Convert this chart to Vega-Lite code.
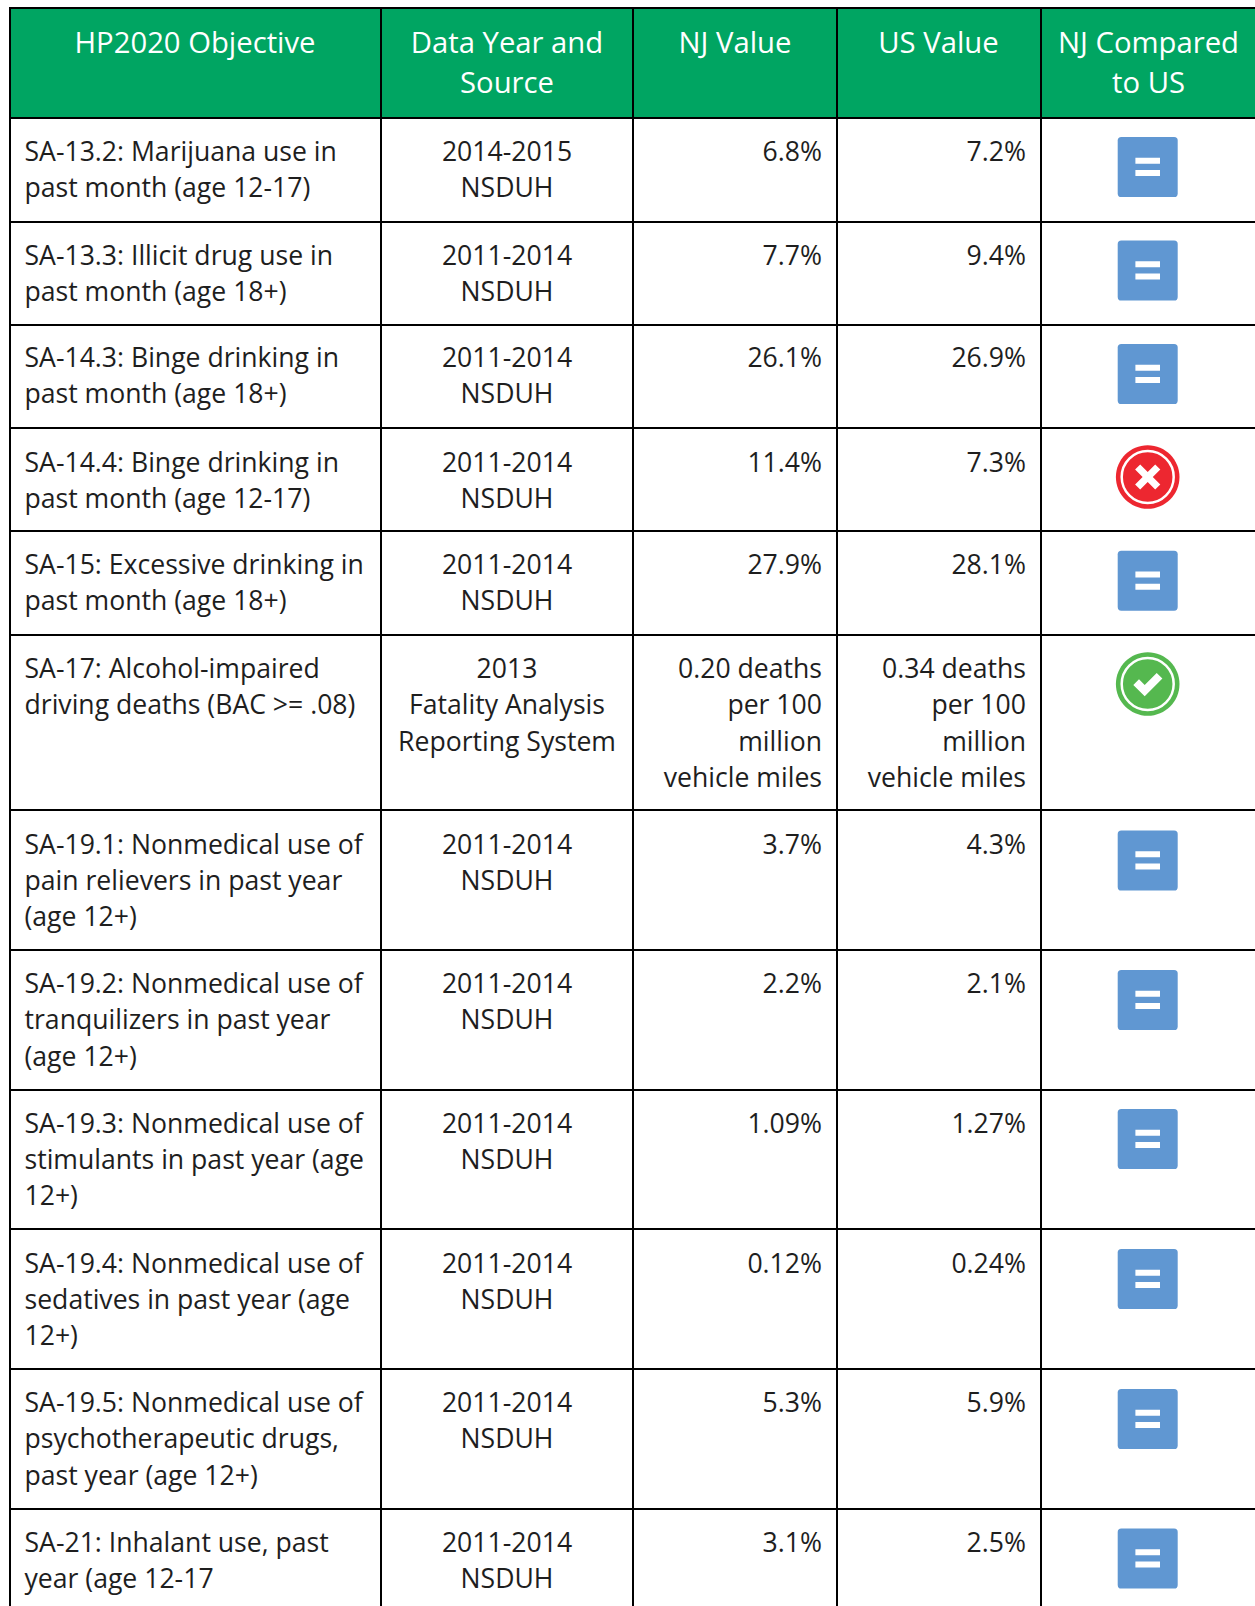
{
"$schema":"https://vega.github.io/schema/vega-lite/v6.json",
"width":1255,"height":1606,"padding":0,"autosize":{"type":"none"},
"background":"white",
"config":{"view":{"stroke":null},"axis":{"disable":true},"legend":{"disable":true}},
"datasets":{
"header":[
{"col":1,"text":"HP2020 Objective"},
{"col":2,"text":"Data Year and\nSource"},
{"col":3,"text":"NJ Value"},
{"col":4,"text":"US Value"},
{"col":5,"text":"NJ Compared\nto US"}],
"hedges":[{"edge":0},{"edge":1},{"edge":2},{"edge":3},{"edge":4},{"edge":5},{"edge":6},{"edge":7},{"edge":8},{"edge":9},{"edge":10},{"edge":11},{"edge":12}],
"vedges":[{"edge":0},{"edge":1},{"edge":2},{"edge":3},{"edge":4}],
"cells":[
{"row":1,"col":1,"text":"SA-13.2: Marijuana use in\npast month (age 12-17)"},{"row":1,"col":2,"text":"2014-2015\nNSDUH"},{"row":1,"col":3,"text":"6.8%"},{"row":1,"col":4,"text":"7.2%"},
{"row":2,"col":1,"text":"SA-13.3: Illicit drug use in\npast month (age 18+)"},{"row":2,"col":2,"text":"2011-2014\nNSDUH"},{"row":2,"col":3,"text":"7.7%"},{"row":2,"col":4,"text":"9.4%"},
{"row":3,"col":1,"text":"SA-14.3: Binge drinking in\npast month (age 18+)"},{"row":3,"col":2,"text":"2011-2014\nNSDUH"},{"row":3,"col":3,"text":"26.1%"},{"row":3,"col":4,"text":"26.9%"},
{"row":4,"col":1,"text":"SA-14.4: Binge drinking in\npast month (age 12-17)"},{"row":4,"col":2,"text":"2011-2014\nNSDUH"},{"row":4,"col":3,"text":"11.4%"},{"row":4,"col":4,"text":"7.3%"},
{"row":5,"col":1,"text":"SA-15: Excessive drinking in\npast month (age 18+)"},{"row":5,"col":2,"text":"2011-2014\nNSDUH"},{"row":5,"col":3,"text":"27.9%"},{"row":5,"col":4,"text":"28.1%"},
{"row":6,"col":1,"text":"SA-17: Alcohol-impaired\ndriving deaths (BAC >= .08)"},{"row":6,"col":2,"text":"2013\nFatality Analysis\nReporting System"},{"row":6,"col":3,"text":"0.20 deaths\nper 100\nmillion\nvehicle miles"},{"row":6,"col":4,"text":"0.34 deaths\nper 100\nmillion\nvehicle miles"},
{"row":7,"col":1,"text":"SA-19.1: Nonmedical use of\npain relievers in past year\n(age 12+)"},{"row":7,"col":2,"text":"2011-2014\nNSDUH"},{"row":7,"col":3,"text":"3.7%"},{"row":7,"col":4,"text":"4.3%"},
{"row":8,"col":1,"text":"SA-19.2: Nonmedical use of\ntranquilizers in past year\n(age 12+)"},{"row":8,"col":2,"text":"2011-2014\nNSDUH"},{"row":8,"col":3,"text":"2.2%"},{"row":8,"col":4,"text":"2.1%"},
{"row":9,"col":1,"text":"SA-19.3: Nonmedical use of\nstimulants in past year (age\n12+)"},{"row":9,"col":2,"text":"2011-2014\nNSDUH"},{"row":9,"col":3,"text":"1.09%"},{"row":9,"col":4,"text":"1.27%"},
{"row":10,"col":1,"text":"SA-19.4: Nonmedical use of\nsedatives in past year (age\n12+)"},{"row":10,"col":2,"text":"2011-2014\nNSDUH"},{"row":10,"col":3,"text":"0.12%"},{"row":10,"col":4,"text":"0.24%"},
{"row":11,"col":1,"text":"SA-19.5: Nonmedical use of\npsychotherapeutic drugs,\npast year (age 12+)"},{"row":11,"col":2,"text":"2011-2014\nNSDUH"},{"row":11,"col":3,"text":"5.3%"},{"row":11,"col":4,"text":"5.9%"},
{"row":12,"col":1,"text":"SA-21: Inhalant use, past\nyear (age 12-17"},{"row":12,"col":2,"text":"2011-2014\nNSDUH"},{"row":12,"col":3,"text":"3.1%"},{"row":12,"col":4,"text":"2.5%"}
],
"status":[
{"row":1,"status":"equal"},{"row":2,"status":"equal"},{"row":3,"status":"equal"},{"row":4,"status":"worse"},{"row":5,"status":"equal"},{"row":6,"status":"better"},{"row":7,"status":"equal"},{"row":8,"status":"equal"},{"row":9,"status":"equal"},{"row":10,"status":"equal"},{"row":11,"status":"equal"},{"row":12,"status":"equal"}]
},
"resolve":{"scale":{"x":"independent","y":"independent","color":"independent","shape":"independent","size":"independent"}},
"layer":[
{"data":{"values":[{"section":"header"}]},
 "mark":{"type":"rect","color":"#00a562"},
 "encoding":{
  "x":{"datum":0,"type":"quantitative","scale":{"domain":[0,5],"range":[9,1255]}},
  "x2":{"datum":5},
  "y":{"datum":0,"type":"quantitative","scale":{"domain":[0,1],"range":[8,118]}},
  "y2":{"datum":1}}},
{"data":{"name":"hedges"},
 "mark":{"type":"rule","color":"#000000","strokeWidth":2},
 "encoding":{
  "y":{"field":"edge","type":"quantitative","scale":{"domain":[0,1,2,3,4,5,6,7,8,9,10,11,12],"range":[8,118,222,325,428,531,635,810,950,1090,1229,1369,1509]}},
  "x":{"datum":0,"type":"quantitative","scale":{"domain":[0,5],"range":[9,1255]}},
  "x2":{"datum":5}}},
{"data":{"name":"vedges"},
 "mark":{"type":"rule","color":"#000000","strokeWidth":2},
 "encoding":{
  "x":{"field":"edge","type":"quantitative","scale":{"domain":[0,1,2,3,4],"range":[10,381,633,837,1041]}},
  "y":{"datum":0,"type":"quantitative","scale":{"domain":[0,1],"range":[8,1606]}},
  "y2":{"datum":1}}},
{"data":{"name":"header"},
 "mark":{"type":"text","font":"Open Sans","fontSize":29.25,"lineHeight":40,"lineBreak":"\n","align":"center","baseline":"alphabetic","color":"#ffffff"},
 "encoding":{
  "x":{"field":"col","type":"quantitative","scale":{"domain":[1,2,3,4,5],"range":[195,507,735,938.5,1148.5]}},
  "y":{"datum":0,"type":"quantitative","scale":{"domain":[0,1],"range":[53,54]}},
  "text":{"field":"text"}}},
{"data":{"name":"cells"},"transform":[{"filter":"datum.col==1"}],
 "mark":{"type":"text","font":"Open Sans","fontSize":26.6,"lineHeight":36.4,"lineBreak":"\n","align":"left","baseline":"alphabetic","color":"#1e1e1e"},
 "encoding":{
  "x":{"field":"col","type":"quantitative","scale":{"domain":[1,2],"range":[24.5,25.5]}},
  "y":{"field":"row","type":"quantitative","scale":{"domain":[1,2,3,4,5,6,7,8,9,10,11,12],"range":[161,264.5,367,471.5,574,678,853.5,993,1132.5,1272.5,1412,1551.5]}},
  "text":{"field":"text"}}},
{"data":{"name":"cells"},"transform":[{"filter":"datum.col==2"}],
 "mark":{"type":"text","font":"Open Sans","fontSize":26.6,"lineHeight":36.4,"lineBreak":"\n","align":"center","baseline":"alphabetic","color":"#1e1e1e"},
 "encoding":{
  "x":{"field":"col","type":"quantitative","scale":{"domain":[1,2],"range":[506,507]}},
  "y":{"field":"row","type":"quantitative","scale":{"domain":[1,2,3,4,5,6,7,8,9,10,11,12],"range":[161,264.5,367,471.5,574,678,853.5,993,1132.5,1272.5,1412,1551.5]}},
  "text":{"field":"text"}}},
{"data":{"name":"cells"},"transform":[{"filter":"datum.col>=3"}],
 "mark":{"type":"text","font":"Open Sans","fontSize":26.6,"lineHeight":36.4,"lineBreak":"\n","align":"right","baseline":"alphabetic","color":"#1e1e1e"},
 "encoding":{
  "x":{"field":"col","type":"quantitative","scale":{"domain":[3,4],"range":[822,1026]}},
  "y":{"field":"row","type":"quantitative","scale":{"domain":[1,2,3,4,5,6,7,8,9,10,11,12],"range":[161,264.5,367,471.5,574,678,853.5,993,1132.5,1272.5,1412,1551.5]}},
  "text":{"field":"text"}}},
{"data":{"name":"status"},
 "mark":{"type":"point","filled":true,"opacity":1,"size":3600,"strokeWidth":0},
 "encoding":{
  "x":{"datum":5,"type":"quantitative","scale":{"domain":[4,5],"range":[1040,1147.7]}},
  "y":{"field":"row","type":"quantitative","scale":{"domain":[1,2,3,4,5,6,7,8,9,10,11,12],"range":[167,270.5,374,477,580.7,684,860.5,1000,1139,1279,1419,1558.5]}},
  "shape":{"field":"status","type":"nominal","scale":{"domain":["equal","worse","better"],"range":["M-0.88 -1 H0.88 Q1 -1 1 -0.88 V0.88 Q1 1 0.88 1 H-0.88 Q-1 1 -1 0.88 V-0.88 Q-1 -1 -0.88 -1 Z","M-1.06 0 A1.06 1.06 0 1 1 1.06 0 A1.06 1.06 0 1 1 -1.06 0 Z","M-1.06 0 A1.06 1.06 0 1 1 1.06 0 A1.06 1.06 0 1 1 -1.06 0 Z"]}},
  "color":{"field":"status","type":"nominal","scale":{"domain":["equal","worse","better"],"range":["#6097d2","#ed2730","#55b84f"]}}}},
{"data":{"name":"status"},"transform":[{"filter":"datum.status!='equal'"}],
 "mark":{"type":"point","shape":"circle","filled":false,"opacity":1,"size":2704,"stroke":"#ffffff","strokeWidth":2.5},
 "encoding":{
  "x":{"datum":5,"type":"quantitative","scale":{"domain":[4,5],"range":[1040,1147.7]}},
  "y":{"field":"row","type":"quantitative","scale":{"domain":[1,2,3,4,5,6,7,8,9,10,11,12],"range":[167,270.5,374,477,580.7,684,860.5,1000,1139,1279,1419,1558.5]}}}},
{"data":{"name":"status"},
 "mark":{"type":"point","filled":true,"opacity":1,"size":3600,"color":"#ffffff","strokeWidth":0},
 "encoding":{
  "x":{"datum":5,"type":"quantitative","scale":{"domain":[4,5],"range":[1040,1147.7]}},
  "y":{"field":"row","type":"quantitative","scale":{"domain":[1,2,3,4,5,6,7,8,9,10,11,12],"range":[167,270.5,374,477,580.7,684,860.5,1000,1139,1279,1419,1558.5]}},
  "shape":{"field":"status","type":"nominal","scale":{"domain":["equal","worse","better"],"range":["M-0.41 -0.31 H0.41 V-0.11 H-0.41 Z M-0.41 0.1 H0.41 V0.3 H-0.41 Z","M-0.25 -0.42 L0 -0.17 L0.25 -0.42 L0.42 -0.25 L0.17 0 L0.42 0.25 L0.25 0.42 L0 0.17 L-0.25 0.42 L-0.42 0.25 L-0.17 0 L-0.42 -0.25 Z","M-0.48 0.03 L-0.29 -0.16 L-0.1 0.03 L0.3 -0.37 L0.49 -0.18 L-0.1 0.41 Z"]}}}}
]
}
